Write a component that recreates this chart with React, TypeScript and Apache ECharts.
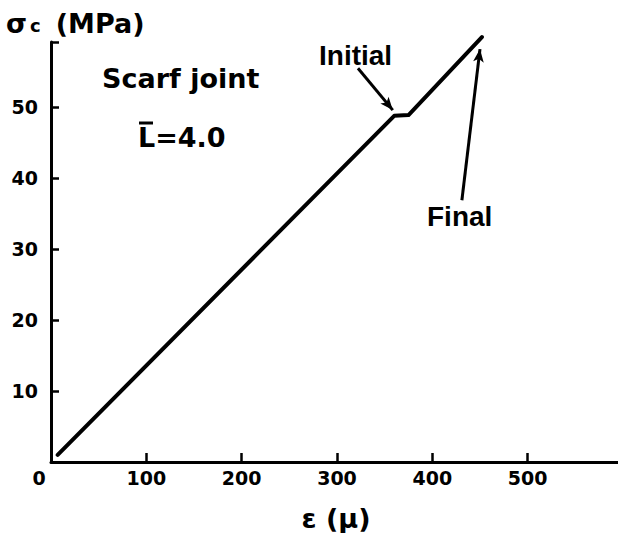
import React, { useEffect, useRef } from "react";
import * as echarts from "echarts";

const strainValues = [7, 360, 375, 452];
const stressValues = [1, 48.8, 48.9, 59.9];
const xTickValues = [0, 100, 200, 300, 400, 500];
const yTickValues = [10, 20, 30, 40, 50];
const initialArrow = [
  [322, 55.5],
  [358.5, 49.6],
];
const finalArrow = [
  [431, 36.9],
  [450, 58.2],
];

export default function App() {
  const ref = useRef<HTMLDivElement>(null);
  useEffect(() => {
    const chart = echarts.init(ref.current!, null, { renderer: "svg" });
    const font = "DejaVu Sans";
    const sans = "Liberation Sans";
    chart.setOption({
      animation: false,
      grid: { left: 51, right: 0, top: 42, bottom: 71, containLabel: false },
      xAxis: {
        type: "value",
        min: 0,
        max: 600,
        interval: 100,
        axisLine: { lineStyle: { color: "#000", width: 3 } },
        axisTick: {
          show: true,
          inside: true,
          length: 9,
          lineStyle: { color: "#000", width: 2.5 },
        },
        axisLabel: {
          customValues: xTickValues,
          margin: 6,
          color: "#000",
          fontFamily: font,
          fontWeight: "bold",
          fontSize: 19,
          formatter: (v: number) => (v === 0 ? "{z|0}" : String(v)),
          rich: {
            z: {
              color: "#000",
              fontFamily: font,
              fontWeight: "bold",
              fontSize: 19,
              padding: [0, 24, 0, 0],
            },
          },
        },
        splitLine: { show: false },
      },
      yAxis: {
        type: "value",
        min: 0,
        max: 59.2,
        interval: 10,
        axisLine: { show: true, lineStyle: { color: "#000", width: 3 } },
        axisTick: {
          show: true,
          inside: true,
          length: 8,
          lineStyle: { color: "#000", width: 2.5 },
        },
        axisLabel: {
          customValues: yTickValues,
          margin: 13,
          color: "#000",
          fontFamily: font,
          fontWeight: "bold",
          fontSize: 19,
        },
        splitLine: { show: false },
      },
      series: [
        {
          type: "line",
          data: strainValues.map((x, i) => [x, stressValues[i]]),
          symbol: "none",
          clip: false,
          lineStyle: { color: "#000", width: 4, cap: "round", join: "round" },
          silent: true,
          markLine: {
            silent: true,
            symbol: ["none", "arrow"],
            symbolSize: [8, 13],
            label: { show: false },
            lineStyle: { color: "#000", width: 3, type: "solid" },
            emphasis: { disabled: true },
            data: [
              [{ coord: initialArrow[0] }, { coord: initialArrow[1] }],
              [{ coord: finalArrow[0] }, { coord: finalArrow[1] }],
            ],
          },
        },
      ],
      graphic: [
        {
          type: "text",
          left: 6,
          top: 10,
          style: {
            text: "{s|σ}{c|c}{m|(MPa)}",
            rich: {
              s: { fontFamily: font, fontWeight: "bold", fontSize: 27, fill: "#000" },
              c: { fontFamily: font, fontWeight: "bold", fontSize: 18, fill: "#000", padding: [4, 0, 0, 3] },
              m: { fontFamily: font, fontWeight: "bold", fontSize: 27, fill: "#000", padding: [0, 0, 0, 15] },
            },
          },
        },
        {
          type: "text",
          x: 336,
          y: 518,
          style: {
            text: "ε (μ)",
            fontFamily: font,
            fontWeight: "bold",
            fontSize: 27,
            fill: "#000",
            align: "center",
            verticalAlign: "middle",
          },
        },
        {
          type: "text",
          x: 102,
          y: 78,
          style: {
            text: "Scarf joint",
            fontFamily: font,
            fontWeight: "bold",
            fontSize: 27,
            fill: "#000",
            align: "left",
            verticalAlign: "middle",
          },
        },
        {
          type: "text",
          x: 138,
          y: 137,
          style: {
            text: "L=4.0",
            fontFamily: font,
            fontWeight: "bold",
            fontSize: 27,
            fill: "#000",
            align: "left",
            verticalAlign: "middle",
          },
        },
        {
          type: "line",
          shape: { x1: 139, y1: 123, x2: 153, y2: 123 },
          style: { stroke: "#000", lineWidth: 3 },
        },
        {
          type: "text",
          x: 319,
          y: 55,
          style: {
            text: "Initial",
            fontFamily: sans,
            fontWeight: "bold",
            fontSize: 28,
            fill: "#000",
            align: "left",
            verticalAlign: "middle",
          },
        },
        {
          type: "text",
          x: 427,
          y: 216,
          style: {
            text: "Final",
            fontFamily: sans,
            fontWeight: "bold",
            fontSize: 28,
            fill: "#000",
            align: "left",
            verticalAlign: "middle",
          },
        },
      ],
    });
    return () => chart.dispose();
  }, []);
  return (
    <div
      style={{
        position: "absolute",
        left: 0,
        top: 0,
        width: 618,
        height: 533,
        overflow: "hidden",
      }}
    >
      <div ref={ref} style={{ width: 623, height: 533 }} />
    </div>
  );
}
